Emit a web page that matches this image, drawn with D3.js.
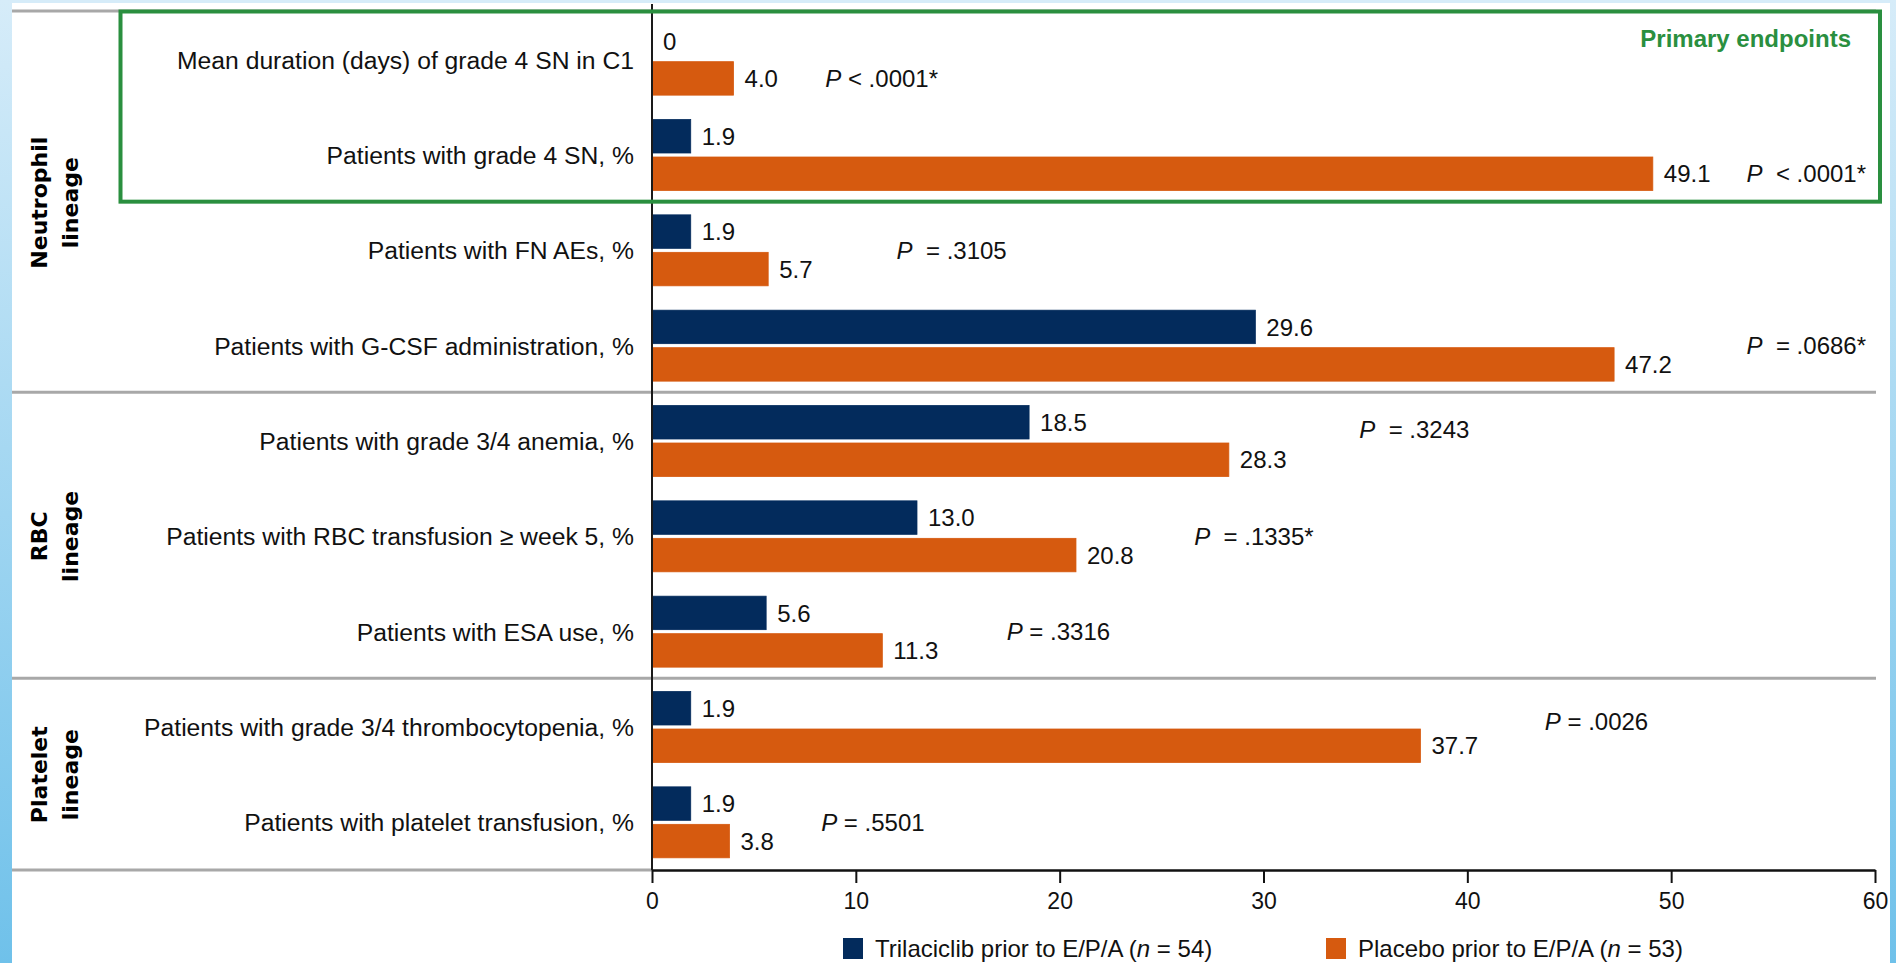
<!DOCTYPE html>
<html>
<head>
<meta charset="utf-8">
<script src="https://cdn.jsdelivr.net/npm/d3@7"></script>
<style>
  html, body { margin: 0; padding: 0; background: #fff; overflow: hidden; }
  svg { display: block; }
  text { font-family: "Liberation Sans", Arial, Helvetica, sans-serif; white-space: pre; }
</style>
</head>
<body>
<svg id="chart" width="1896" height="963"></svg>
<script>
// ---- data ----------------------------------------------------------------
const categories = [
  "Mean duration (days) of grade 4 SN in C1",
  "Patients with grade 4 SN, %",
  "Patients with FN AEs, %",
  "Patients with G-CSF administration, %",
  "Patients with grade 3/4 anemia, %",
  "Patients with RBC transfusion \u2265 week 5, %",
  "Patients with ESA use, %",
  "Patients with grade 3/4 thrombocytopenia, %",
  "Patients with platelet transfusion, %"
];
const lineages = ["Neutrophil", "Neutrophil", "Neutrophil", "Neutrophil",
                  "RBC", "RBC", "RBC", "Platelet", "Platelet"];
const lineageTitles = {
  Neutrophil: ["Neutrophil", "lineage"],
  RBC: ["RBC", "lineage"],
  Platelet: ["Platelet", "lineage"]
};
const trilaciclib = [0, 1.9, 1.9, 29.6, 18.5, 13.0, 5.6, 1.9, 1.9];
const placebo     = [4.0, 49.1, 5.7, 47.2, 28.3, 20.8, 11.3, 37.7, 3.8];
const pValues = [" < .0001*", "  < .0001*", "  = .3105", "  = .0686*", "  = .3243",
                 "  = .1335*", " = .3316", " = .0026", " = .5501"];
const primaryEndpoints = [categories[0], categories[1]];
const xTicks = [0, 10, 20, 30, 40, 50, 60];
const seriesKeys = ["trilaciclib", "placebo"];
const seriesNames = ["Trilaciclib prior to E/P/A", "Placebo prior to E/P/A"];
const seriesN = [54, 53];

// where each P-value note sits: start on the value axis, and lane within the row
// (-1 = first bar, 0 = between the bars, +1 = second bar)
const pLabelAt   = [8.5, 53.7, 12.0, 53.7, 34.7, 26.6, 17.4, 43.8, 8.3];
const pLabelLane = [1, 1, 0, 0, -0.6, 0, 0, -0.3, 0];

// ---- layout & styles -----------------------------------------------------
const W = 1896, H = 963;
const plot = { left: 652, right: 1875, top: 12, bottom: 870 };
const frameLeft = 12;
const colors = { trilaciclib: "#032b5c", placebo: "#d65a0f" };
const green = "#2a8f3f";
const gridGray = "#a8a8a8";
const ink = "#111";

const svg = d3.select("#chart");

// page frame
const defs = svg.append("defs");
const grad = defs.append("linearGradient").attr("id", "edge")
  .attr("x1", 0).attr("y1", 0).attr("x2", 0).attr("y2", 1);
grad.append("stop").attr("offset", "0%").attr("stop-color", "#d6ecf9");
grad.append("stop").attr("offset", "100%").attr("stop-color", "#6fc1ea");

svg.append("rect").attr("width", W).attr("height", H).attr("fill", "#fff");
svg.append("rect").attr("x", 0).attr("y", 0).attr("width", W).attr("height", 3).attr("fill", "#d6ecf9");
svg.append("rect").attr("x", 0).attr("y", 0).attr("width", frameLeft).attr("height", H).attr("fill", "url(#edge)");
svg.append("rect").attr("x", 1890).attr("y", 0).attr("width", W - 1890).attr("height", H).attr("fill", "url(#edge)");

// scales
const x = d3.scaleLinear().domain([0, 60]).range([plot.left, plot.right]);
const y = d3.scaleBand().domain(categories).range([plot.top, plot.bottom]).padding(0);
const sub = d3.scaleBand().domain(seriesKeys).range([0, y.bandwidth()])
  .paddingInner(0.107).paddingOuter(0.325);

const rows = categories.map((c, i) => ({
  cat: c, i,
  trilaciclib: trilaciclib[i],
  placebo: placebo[i],
  p: pValues[i],
  lineage: lineages[i]
}));

// section rules between lineages
const groupStarts = categories.filter((c, i) => i === 0 || lineages[i] !== lineages[i - 1]);
svg.append("g").selectAll("line").data(groupStarts).join("line")
  .attr("x1", frameLeft).attr("x2", x(60) + 1)
  .attr("y1", d => y(d) - 1).attr("y2", d => y(d) - 1)
  .attr("stroke", gridGray).attr("stroke-width", 3);
svg.append("line")
  .attr("x1", frameLeft).attr("x2", plot.left)
  .attr("y1", plot.bottom).attr("y2", plot.bottom)
  .attr("stroke", gridGray).attr("stroke-width", 3);

// bars
const rowG = svg.append("g").selectAll("g").data(rows).join("g")
  .attr("transform", d => `translate(0,${y(d.cat)})`);

rowG.selectAll("rect").data(d => seriesKeys.map(k => ({ key: k, v: d[k] }))).join("rect")
  .attr("x", x(0))
  .attr("y", d => sub(d.key))
  .attr("width", d => x(d.v) - x(0))
  .attr("height", sub.bandwidth())
  .attr("fill", d => colors[d.key])
  .attr("stroke", d => colors[d.key])
  .attr("stroke-width", 0.8);

// value labels
rowG.selectAll("text.val").data(d => seriesKeys.map(k => ({ key: k, v: d[k] }))).join("text")
  .attr("class", "val")
  .attr("x", d => x(d.v) + 11)
  .attr("y", d => sub(d.key) + sub.bandwidth() / 2)
  .attr("dy", "0.36em")
  .attr("font-size", 24)
  .attr("fill", ink)
  .text(d => d.v === 0 ? "0" : d.v.toFixed(1));

// P-value notes
const laneStep = sub.step() / 2;
const pText = svg.append("g").selectAll("text").data(rows).join("text")
  .attr("x", d => x(pLabelAt[d.i]))
  .attr("y", d => y(d.cat) + y.bandwidth() / 2 + pLabelLane[d.i] * laneStep)
  .attr("dy", "0.36em")
  .attr("font-size", 24)
  .attr("fill", ink)
  .attr("xml:space", "preserve");
pText.append("tspan").attr("font-style", "italic").text("P");
pText.append("tspan").text(d => d.p);

// category axis
const yAxis = svg.append("g")
  .attr("transform", `translate(${plot.left},0)`)
  .call(d3.axisLeft(y).tickSize(0).tickPadding(18));
yAxis.select(".domain").remove();
yAxis.selectAll("text")
  .attr("font-family", null)
  .attr("font-size", 24.7)
  .attr("fill", ink)
  .attr("dy", "0.36em");

svg.append("line")
  .attr("x1", plot.left).attr("x2", plot.left)
  .attr("y1", 4).attr("y2", plot.bottom)
  .attr("stroke", "#1a1a1a").attr("stroke-width", 2);

// value axis
const xAxis = svg.append("g")
  .attr("transform", `translate(0,${plot.bottom})`)
  .call(d3.axisBottom(x).tickValues(xTicks).tickSize(13).tickSizeOuter(0).tickPadding(10));
xAxis.select(".domain").attr("stroke", ink).attr("stroke-width", 2.5);
xAxis.selectAll(".tick line").attr("stroke", ink).attr("stroke-width", 2);
xAxis.selectAll("text")
  .attr("font-family", null)
  .attr("font-size", 23)
  .attr("fill", ink);

// lineage titles
const lineageNames = Array.from(new Set(lineages));
lineageNames.forEach(name => {
  const cats = categories.filter((c, i) => lineages[i] === name);
  const top = y(cats[0]);
  const bottom = y(cats[cats.length - 1]) + y.bandwidth();
  const cy = (top + bottom) / 2;
  lineageTitles[name].forEach((line, j) => {
    svg.append("text")
      .attr("transform", `translate(${47 + j * 31},${cy}) rotate(-90)`)
      .attr("text-anchor", "middle")
      .style("font-family", "'DejaVu Sans', Verdana, sans-serif")
      .attr("font-weight", "bold")
      .attr("font-size", 22)
      .attr("fill", "#000")
      .text(line);
  });
});

// primary endpoints box
const boxTop = y(primaryEndpoints[0]) - 0.5;
const boxBottom = y(primaryEndpoints[1]) + y.bandwidth() - 1;
svg.append("rect")
  .attr("x", 120.5).attr("y", boxTop)
  .attr("width", 1880 - 120.5).attr("height", boxBottom - boxTop)
  .attr("fill", "none").attr("stroke", green).attr("stroke-width", 4);
svg.append("text")
  .attr("x", 1851).attr("y", 47)
  .attr("text-anchor", "end")
  .attr("font-weight", "bold")
  .attr("font-size", 24)
  .attr("fill", green)
  .text("Primary endpoints");

// legend
const legendX = [843, 1326];
const legend = svg.append("g").selectAll("g").data(seriesKeys).join("g")
  .attr("transform", (d, i) => `translate(${legendX[i]},938)`);
legend.append("rect")
  .attr("width", 20).attr("height", 21)
  .attr("fill", d => colors[d]);
const lt = legend.append("text")
  .attr("x", 32).attr("y", 19)
  .attr("font-size", 24)
  .attr("fill", ink)
  .attr("xml:space", "preserve");
lt.append("tspan").text((d, i) => seriesNames[i] + " (");
lt.append("tspan").attr("font-style", "italic").text("n");
lt.append("tspan").text((d, i) => " = " + seriesN[i] + ")");
</script>
</body>
</html>
